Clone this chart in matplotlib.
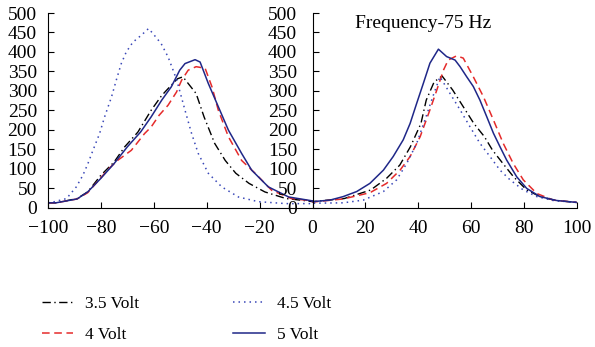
import matplotlib
matplotlib.use("Agg")
import matplotlib.pyplot as plt

plt.rcParams['font.family'] = ['Liberation Serif', 'DejaVu Serif']

# values, left lobe (-100..0) and right lobe (0..100)
x_35 = [-100, -97, -89, -85, -80, -75, -71, -66, -61, -57, -54, -51, -49, -44, -41, -37, -33, -29, -24, -18, -10, -2,
        0, 12, 22, 28, 33, 37, 41, 43, 46, 49, 53, 57, 61, 65, 68, 72, 76, 81, 86, 92, 100]
y_35 = [12, 12, 23, 40, 83, 117, 156, 194, 250, 288, 310, 331, 336, 293, 233, 165, 121, 88, 62, 40, 23, 17,
        15, 23, 45, 75, 109, 156, 216, 276, 323, 338, 302, 259, 216, 182, 148, 113, 79, 45, 28, 18, 13]

x_4 = [-100, -97, -89, -85, -77, -73.5, -68.5, -63.5, -61, -58, -54.6, -51.4, -49.5, -47, -44, -40.6, -38, -35.6,
       -31.8, -26.8, -21.7, -15.4, -8, 0,
       0, 11.6, 21.7, 28, 33.1, 36.9, 40.7, 44.4, 47, 49.5, 51.3, 54.5, 57, 60.8, 64.6, 68.4, 72.1, 75.9, 79.7,
       84.8, 91, 100]
y_4 = [12, 12, 22, 38, 100, 122, 147, 190, 207, 237, 263, 297, 327, 353, 362, 358, 310, 250,
       182, 121, 88, 44, 23, 17,
       14, 22, 38, 62, 96, 131, 182, 251, 302, 353, 379, 390, 384, 336, 285, 225, 165, 113, 71,
       36, 19, 13]

x_45 = [-100, -97.5, -93, -89.3, -86.8, -84.9, -83, -80.5, -78.6, -76, -74.2, -72.3, -70.4, -67.9, -64.7, -62,
        -60.3, -57.2, -54.6, -52.7, -51.3, -48.2, -45.7, -43.2, -39.4, -34.3, -28, -20.5, -10, 0,
        0, 11.6, 19.2, 26.8, 31.8, 35.6, 39.4, 42.5, 45.7, 48.2, 52, 55.8, 59.5, 63.3, 67.1, 70.9, 74.7, 79.7,
        84.8, 91, 100]
y_45 = [12, 15, 23, 53, 83, 113, 147, 190, 233, 284, 327, 370, 400, 425, 443, 460,
        447, 421, 387, 353, 327, 250, 190, 139, 88, 53, 27, 15, 10, 10,
        11, 12, 19, 41, 71, 113, 165, 225, 289, 336, 293, 251, 208, 165, 131, 96, 71, 45,
        28, 18, 13]

x_5 = [-100, -97, -89, -85, -80, -75, -70, -65, -61, -57, -53.4, -50.2, -48.2, -44.4, -42.5, -39.4, -35.6, -31.8,
       -26.8, -23, -16.7, -9, 0,
       0, 6.6, 11.6, 16.7, 21.7, 26.8, 30.5, 34.3, 36.9, 39.4, 41.9, 44.4, 47.6, 50.7, 53.9, 55.8, 58.3, 60.8,
       63.3, 65.9, 68.4, 70.9, 73.4, 77.2, 81, 86, 92.3, 100]
y_5 = [12, 12, 22, 40, 75, 113, 156, 194, 233, 276, 310, 353, 370, 380, 374, 319, 259, 199,
       139, 96, 53, 27, 17,
       15, 19, 28, 41, 62, 96, 131, 174, 216, 268, 319, 371, 407, 388, 379, 362, 336, 311,
       276, 233, 191, 156, 122, 79, 49, 28, 18, 13]

yticks = list(range(0, 501, 50))
xticks = list(range(-100, 101, 20))

fig = plt.figure(figsize=(5.95, 3.47), dpi=100)
ax = fig.add_axes([48 / 595, 1 - 207.5 / 347, 529 / 595, 194.5 / 347])

ax.plot(x_35, y_35, color='black', lw=1.0, dashes=(6, 2.5, 1, 2.5), label='3.5 Volt')
ax.plot(x_4, y_4, color='#e52b2b', lw=1.1, dashes=(5, 3), label='4 Volt')
ax.plot(x_45, y_45, color='#3a48b8', lw=1.1, dashes=(1, 2.6), label='4.5 Volt')
ax.plot(x_5, y_5, color='#1f2788', lw=1.1, label='5 Volt')

ax.set_xlim(-100, 100)
ax.set_ylim(0, 500)
ax.set_xticks(xticks)
ax.set_yticks(yticks)
ax.tick_params(direction='in', labelsize=14, length=4, width=0.8)
ax.tick_params(axis='y', pad=8)
ax.tick_params(axis='x', pad=9)
ax.spines['top'].set_visible(False)
ax.spines['right'].set_visible(False)

# second y axis sitting at x = 0
ax2 = ax.twinx()
ax2.set_ylim(0, 500)
ax2.set_yticks(yticks)
ax2.yaxis.tick_left()
for s in ['top', 'right', 'bottom']:
    ax2.spines[s].set_visible(False)
ax2.spines['left'].set_visible(True)
ax2.spines['left'].set_position(('data', 0))
ax2.tick_params(direction='in', labelsize=14, length=4, width=0.8, pad=11)

ax.text(16, 474, 'Frequency-75 Hz', fontsize=14, va='center', ha='left')

fig.legend(loc='upper left', bbox_to_anchor=(42 / 595, 1 - 296 / 347), ncol=2, frameon=False,
           fontsize=12.5, handlelength=1.8, handletextpad=0.7, columnspacing=5.4, labelspacing=0.85,
           borderpad=0, borderaxespad=0)

plt.savefig('out.png', dpi=100)
